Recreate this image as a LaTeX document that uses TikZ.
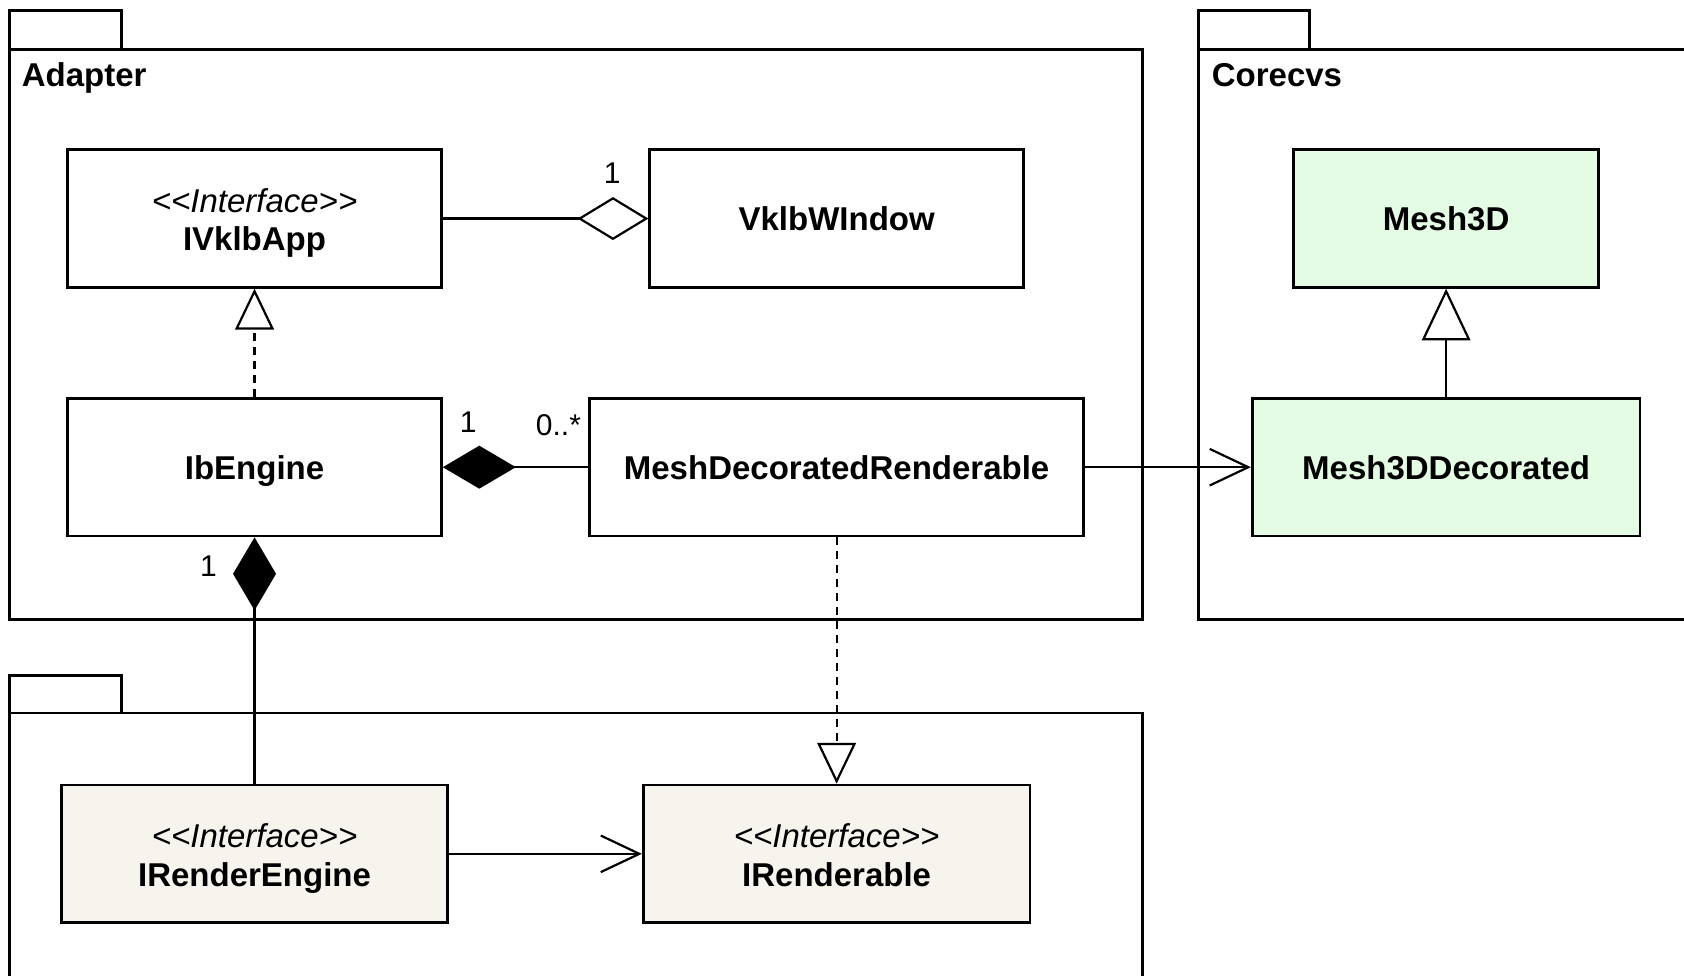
\documentclass[tikz,border=0pt]{standalone}
\usepackage{fontspec}
\setmainfont{Liberation Sans}
\newfontfamily\umlfont{Liberation Sans}
\usetikzlibrary{arrows.meta}
\definecolor{meshgreen}{HTML}{E4FBE4}
\definecolor{rbeige}{HTML}{F6F4EC}
\tikzset{
  cls/.style={draw, line width=1.4pt, inner sep=0pt},
  ctext/.style={anchor=base, inner sep=0pt, font=\umlfont\fontsize{16.5pt}{19pt}\selectfont\bfseries},
  stext/.style={anchor=base, inner sep=0pt, font=\umlfont\fontsize{16.5pt}{19pt}\selectfont\itshape},
  pkg/.style={draw, line width=1.3pt, fill=white},
  pkglabel/.style={anchor=base west, inner sep=0pt, font=\umlfont\fontsize{16.5pt}{19pt}\selectfont\bfseries},
  conn/.style={line width=1.1pt},
  dashconn/.style={conn, dash pattern=on 4pt off 3pt},
  mult/.style={inner sep=0pt, font=\umlfont\fontsize{15pt}{17pt}\selectfont},
  odiamond/.style={-{Diamond[open, length=35.4pt, width=21.5pt]}},
  fdiamond/.style={-{Diamond[length=36.5pt, width=21.5pt]}},
  otri/.style={-{Triangle[open, length=20.4pt, width=19.3pt]}},
  otribig/.style={-{Triangle[open, length=25.8pt, width=24.2pt]}},
  vee/.style={-{Straight Barb[length=19.3pt, width=18.3pt]}}
}
\begin{document}
\begin{tikzpicture}[x=0.537pt, y=-0.537pt]
\clip (0,0) rectangle (1568,908);
\fill[white] (0,0) rectangle (1568,908);

% packages
\draw[pkg] (9,10) rectangle (113,46);
\draw[pkg] (9,46) rectangle (1064,577);
\draw[pkg] (1116,10) rectangle (1219,46);
\draw[pkg] (1116,46) rectangle (1620,577);
\draw[pkg] (9,629) rectangle (113,664);
\draw[pkg] (9,664) rectangle (1064,960);
\node[pkglabel] (adapterlbl) at (20,81) {Adapter};
\node[pkglabel] (corecvslbl) at (1128,81) {Corecvs};

% classes
\node[cls, minimum width={348*0.537pt}, minimum height={128*0.537pt}] (ivk) at (237,203.5) {};
\node[stext] (ivkst) at (237,197.5) {<<Interface>>};
\node[ctext] (ivkname) at (237,233.5) {IVklbApp};

\node[cls, minimum width={348*0.537pt}, minimum height={128*0.537pt}] (vkw) at (779,203.5) {};
\node[ctext] (vkwname) at (779,215) {VklbWIndow};

\node[cls, fill=meshgreen, minimum width={284*0.537pt}, minimum height={128*0.537pt}] (m3d) at (1346.5,203.5) {};
\node[ctext] (m3dname) at (1346.5,215) {Mesh3D};

\node[cls, minimum width={348*0.537pt}, minimum height={128*0.537pt}] (ibe) at (237,435) {};
\node[ctext] (ibename) at (237,446.5) {IbEngine};

\node[cls, minimum width={460*0.537pt}, minimum height={128*0.537pt}] (mdr) at (779,435) {};
\node[ctext] (mdrname) at (779,446.5) {MeshDecoratedRenderable};

\node[cls, fill=meshgreen, minimum width={361*0.537pt}, minimum height={128*0.537pt}] (m3dd) at (1346.5,435) {};
\node[ctext] (m3ddname) at (1346.5,446.5) {Mesh3DDecorated};

\node[cls, fill=rbeige, minimum width={360*0.537pt}, minimum height={128*0.537pt}] (ire) at (237,795) {};
\node[stext] (irest) at (237,789) {<<Interface>>};
\node[ctext] (irename) at (237,825.5) {IRenderEngine};

\node[cls, fill=rbeige, minimum width={360*0.537pt}, minimum height={128*0.537pt}] (irb) at (779,795) {};
\node[stext] (irbst) at (779,789) {<<Interface>>};
\node[ctext] (irbname) at (779,825.5) {IRenderable};

% connectors
\draw[conn, odiamond] (ivk) -- (vkw);
\draw[dashconn, otri] (ibe) -- (ivk);
\draw[conn, fdiamond] (mdr) -- (ibe);
\draw[conn, vee] (mdr) -- (m3dd);
\draw[conn, otribig] (m3dd) -- (m3d);
\draw[conn, fdiamond] (ire) -- (ibe);
\draw[dashconn, otri] (mdr) -- (irb);
\draw[conn, vee] (ire) -- (irb);

% multiplicities
\node[mult] (mult1) at (570,161) {1};
\node[mult] (mult2) at (436,393) {1};
\node[mult] (mult3) at (520,396) {0..*};
\node[mult] (mult4) at (194,527) {1};
\end{tikzpicture}
\end{document}
